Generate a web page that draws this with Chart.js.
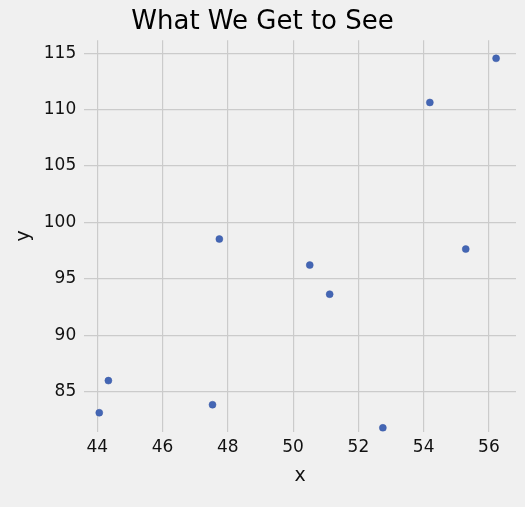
<!DOCTYPE html>
<html><head><meta charset="utf-8">
<script src="https://cdn.jsdelivr.net/npm/chart.js@4"></script>
<style>html,body{margin:0;padding:0;background:#f0f0f0;}#w{width:525px;height:507px;}</style>
</head><body><div id="w"><canvas id="c"></canvas></div>
<script>
const xValues=[44.34,44.06,47.53,47.74,50.51,51.12,52.75,54.19,55.29,56.22];
const yValues=[85.98,83.13,83.84,98.53,96.22,93.64,81.79,110.64,97.64,114.55];
const xTicks=[44,46,48,50,52,54,56];
const yTicks=[85,90,95,100,105,110,115];
const font={family:'DejaVu Sans',size:17};
new Chart(document.getElementById('c'),{
type:'scatter',
data:{datasets:[{data:xValues.map((x,i)=>({x,y:yValues[i]})),backgroundColor:'#4466b4',borderColor:'#3a5aa6',borderWidth:0.5,pointRadius:3.5}]},
options:{responsive:true,maintainAspectRatio:false,animation:false,
layout:{padding:{left:9,right:9,top:5,bottom:16}},
plugins:{legend:{display:false},tooltip:{enabled:false},
title:{display:true,text:'What We Get to See',color:'#000',font:{family:'DejaVu Sans',size:26,weight:'normal'},padding:{top:2,bottom:2}}},
scales:{
x:{min:43.6,max:56.83,afterBuildTicks:a=>{a.ticks=xTicks.map(v=>({value:v}));},
grid:{color:'#cbcbcb',lineWidth:1.2,drawTicks:false},border:{display:false},
ticks:{color:'#111',font,padding:6},title:{display:true,text:'x',color:'#111',font:{family:'DejaVu Sans',size:19},padding:{top:0}}},
y:{min:81.44,max:116.16,afterBuildTicks:a=>{a.ticks=yTicks.map(v=>({value:v}));},
grid:{color:'#cbcbcb',lineWidth:1.2,drawTicks:false},border:{display:false},
ticks:{color:'#111',font,padding:8},title:{display:true,text:'y',color:'#111',font:{family:'DejaVu Sans',size:19},padding:{bottom:0}}}
}},
plugins:[{id:'bg',beforeDraw(c){const x=c.ctx;x.save();x.fillStyle='#f0f0f0';x.fillRect(0,0,c.width,c.height);x.restore();}}]
});
</script></body></html>
